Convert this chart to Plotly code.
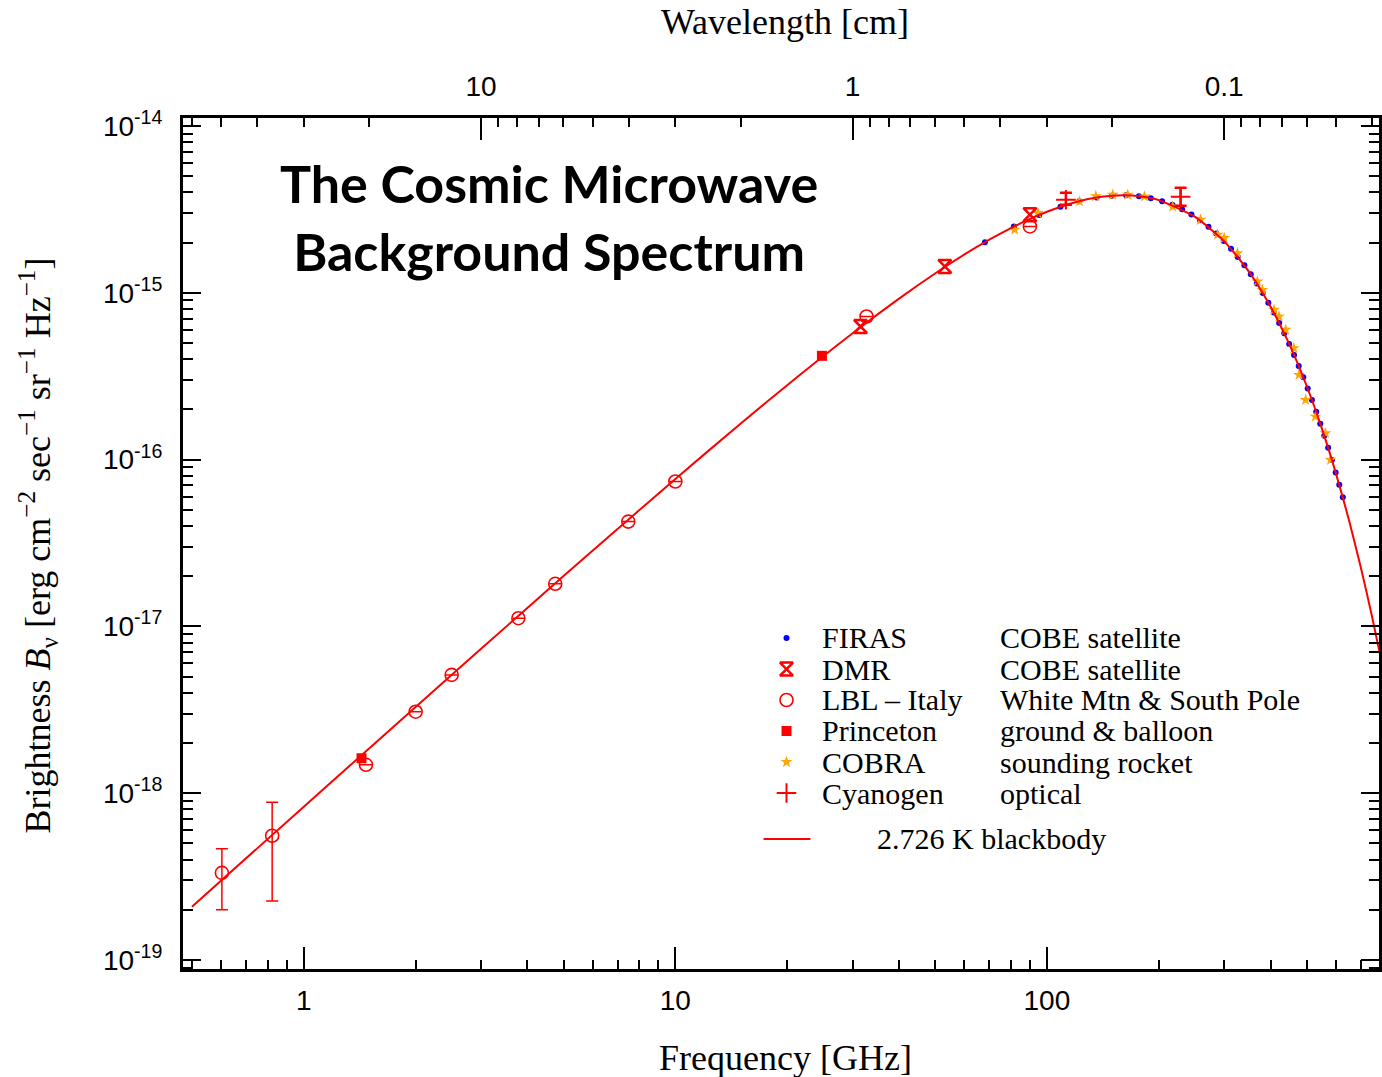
import plotly.graph_objects as go

# ---- 2.726 K blackbody curve, tabulated (GHz, erg cm^-2 s^-1 sr^-1 Hz^-1) ----
bb_freq = [0.5, 1, 2, 3, 5, 10, 15, 20, 30, 40, 50, 60, 70, 80, 90, 100,
           120, 140, 160, 180, 200, 250, 300, 350, 400, 450, 500, 550,
           600, 650, 700, 750, 800]
bb_bright = [2.085e-19, 8.301e-19, 3.291e-18, 7.340e-18, 2.003e-17, 7.659e-17,
             1.6465e-16, 2.7948e-16, 5.721e-16, 9.231e-16, 1.3057e-15,
             1.6979e-15, 2.0818e-15, 2.4435e-15, 2.7726e-15, 3.0619e-15,
             3.5046e-15, 3.7600e-15, 3.8409e-15, 3.7744e-15, 3.5941e-15,
             2.8599e-15, 2.0345e-15, 1.3357e-15, 8.258e-16, 4.873e-16,
             2.7715e-16, 1.5295e-16, 8.234e-17, 4.341e-17, 2.2484e-17,
             1.1468e-17, 5.771e-18]

# ---- FIRAS (COBE satellite) ----
firas_freq = [68.1, 81.5, 95.3, 108.8, 122.3, 136.1, 149.6, 163.4, 176.9, 190.4,
              204.2, 217.6, 231.1, 244.9, 258.4, 272.2, 285.7, 299.2, 313.0,
              326.5, 340.0, 353.8, 367.2, 381.0, 394.5, 408.0, 421.8, 435.3,
              448.8, 462.6, 476.1, 489.9, 503.3, 516.8, 530.6, 544.1, 557.9,
              571.4, 584.9, 598.7, 612.2, 625.7]
firas_bright = [2.010e-15, 2.495e-15, 2.931e-15, 3.280e-15, 3.544e-15, 3.725e-15,
                3.819e-15, 3.839e-15, 3.793e-15, 3.693e-15, 3.545e-15, 3.368e-15,
                3.166e-15, 2.945e-15, 2.719e-15, 2.487e-15, 2.264e-15, 2.047e-15,
                1.836e-15, 1.642e-15, 1.461e-15, 1.290e-15, 1.139e-15, 9.974e-16,
                8.728e-16, 7.611e-16, 6.595e-16, 5.715e-16, 4.938e-16, 4.241e-16,
                3.645e-16, 3.114e-16, 2.667e-16, 2.277e-16, 1.933e-16, 1.643e-16,
                1.389e-16, 1.177e-16, 9.95e-17, 8.37e-17, 7.06e-17, 5.94e-17]

# ---- COBRA (sounding rocket) ----
cobra_freq = [81.9, 94.6, 122.4, 135.4, 150.4, 165.0, 183.0, 218.0, 259.0, 288.0,
              300.0, 325.7, 368.5, 380.0, 408.6, 421.4, 439.0, 462.0, 477.0,
              497.0, 528.0, 562.0, 580.0]
cobra_bright = [2.39e-15, 3.01e-15, 3.53e-15, 3.80e-15, 3.87e-15, 3.87e-15,
                3.78e-15, 3.29e-15, 2.74e-15, 2.23e-15, 2.13e-15, 1.73e-15,
                1.17e-15, 1.04e-15, 7.91e-16, 7.21e-16, 6.00e-16, 4.66e-16,
                3.22e-16, 2.28e-16, 1.81e-16, 1.44e-16, 9.97e-17]

# ---- DMR (COBE satellite) ----
dmr_freq = [31.5, 53.1, 90.0]
dmr_bright = [6.28e-16, 1.44e-15, 2.94e-15]

# ---- LBL - Italy (White Mtn & South Pole) ----
lbl_freq = [0.602, 0.822, 1.47, 2.0, 2.5, 3.78, 4.75, 7.47, 10.0, 32.7, 90.0]
lbl_bright = [3.33e-19, 5.56e-19, 1.48e-18, 3.08e-18, 5.12e-18, 1.12e-17,
              1.80e-17, 4.25e-17, 7.39e-17, 7.21e-16, 2.50e-15]
lbl_upper = [4.64e-19, 8.83e-19, 1.48e-18, 3.08e-18, 5.12e-18, 1.12e-17,
             1.80e-17, 4.25e-17, 7.39e-17, 7.21e-16, 2.50e-15]
lbl_lower = [2.00e-19, 2.26e-19, 1.48e-18, 3.08e-18, 5.12e-18, 1.12e-17,
             1.80e-17, 4.25e-17, 7.39e-17, 7.21e-16, 2.50e-15]

# ---- Princeton (ground & balloon) ----
princeton_freq = [1.43, 24.8]
princeton_bright = [1.62e-18, 4.19e-16]

# ---- Cyanogen (optical) ----
cn_freq = [112.5, 229.0]
cn_bright = [3.61e-15, 3.76e-15]
cn_upper = [3.98e-15, 4.27e-15]
cn_lower = [3.37e-15, 3.33e-15]

# ---- axis ticks ----
freq_ticks = [1, 10, 100]
freq_ticktext = ["1", "10", "100"]
wave_ticks = [10, 1, 0.1]
wave_ticktext = ["10", "1", "0.1"]
bright_ticks = [1e-19, 1e-18, 1e-17, 1e-16, 1e-15, 1e-14]
bright_ticktext = ["10<sup>-19</sup>", "10<sup>-18</sup>", "10<sup>-17</sup>",
                   "10<sup>-16</sup>", "10<sup>-15</sup>", "10<sup>-14</sup>"]

# ---- legend rows ----
legend_names = ["FIRAS", "DMR", "LBL \u2013 Italy", "Princeton", "COBRA", "Cyanogen"]
legend_desc = ["COBE satellite", "COBE satellite", "White Mtn & South Pole",
               "ground & balloon", "sounding rocket", "optical"]

RED = "#FF0000"
BLUE = "#0000FF"
ORANGE = "#FFA500"

C_CM_GHZ = 29.9792458  # speed of light in cm * GHz

styles = {
    "FIRAS": dict(symbol="circle", size=6, color=BLUE, line=dict(width=0)),
    "DMR": dict(symbol="hourglass-open", size=13, color=RED, line=dict(width=2.5, color=RED)),
    "LBL": dict(symbol="circle-open", size=13, color=RED, line=dict(width=1.6, color=RED)),
    "Princeton": dict(symbol="square", size=10, color=RED, line=dict(width=0)),
    "COBRA": dict(symbol="star", size=9, color=ORANGE, line=dict(width=0)),
    "Cyanogen": dict(symbol="cross-thin-open", size=14, color=RED, line=dict(width=2, color=RED)),
}

fig = go.Figure()

fig.add_trace(go.Scatter(x=firas_freq, y=firas_bright, mode="markers",
                         marker=styles["FIRAS"], hoverinfo="skip"))
fig.add_trace(go.Scatter(x=cobra_freq, y=cobra_bright, mode="markers",
                         marker=styles["COBRA"], hoverinfo="skip"))
fig.add_trace(go.Scatter(x=bb_freq, y=bb_bright, mode="lines",
                         line=dict(color=RED, width=2, shape="spline", smoothing=0.6),
                         hoverinfo="skip"))
# same curve against wavelength, transparent, so the top wavelength axis is laid out
fig.add_trace(go.Scatter(x=[C_CM_GHZ / f for f in bb_freq], y=bb_bright,
                         xaxis="x2", mode="lines", opacity=0,
                         line=dict(color=RED, width=0), hoverinfo="skip"))
fig.add_trace(go.Scatter(
    x=lbl_freq, y=lbl_bright, mode="markers", marker=styles["LBL"],
    error_y=dict(type="data", symmetric=False,
                 array=[u - v for u, v in zip(lbl_upper, lbl_bright)],
                 arrayminus=[v - l for v, l in zip(lbl_bright, lbl_lower)],
                 color=RED, thickness=1.5, width=6),
    hoverinfo="skip"))
fig.add_trace(go.Scatter(x=princeton_freq, y=princeton_bright, mode="markers",
                         marker=styles["Princeton"], hoverinfo="skip"))
fig.add_trace(go.Scatter(x=dmr_freq, y=dmr_bright, mode="markers",
                         marker=styles["DMR"], hoverinfo="skip"))
fig.add_trace(go.Scatter(
    x=cn_freq, y=cn_bright, mode="markers", marker=styles["Cyanogen"],
    error_y=dict(type="data", symmetric=False,
                 array=[u - v for u, v in zip(cn_upper, cn_bright)],
                 arrayminus=[v - l for v, l in zip(cn_bright, cn_lower)],
                 color=RED, thickness=2.5, width=6),
    hoverinfo="skip"))

# legend key symbols on an overlay axis spanning the plot area
key_x = 0.5046
key_rows = [0.3890, 0.3525, 0.3161, 0.2797, 0.2432, 0.2068]
for key, yrow in zip(["FIRAS", "DMR", "LBL", "Princeton", "COBRA", "Cyanogen"], key_rows):
    fig.add_trace(go.Scatter(x=[key_x], y=[yrow], xaxis="x3", yaxis="y3",
                             mode="markers", marker=styles[key], hoverinfo="skip"))

tick_font = dict(family="Liberation Sans, Arial, sans-serif", size=28, color="black")
serif = "Liberation Serif, Times New Roman, serif"

minor_freq = [m * 10 ** e for e in range(-1, 3) for m in range(2, 10)]
minor_wave = [m * 10 ** e for e in range(-2, 2) for m in range(2, 10)]
minor_bright = [m * 10.0 ** e for e in range(-20, -14) for m in range(2, 10)]

fig.update_layout(
    width=1382, height=1077,
    margin=dict(l=183, r=0, t=118, b=108),
    paper_bgcolor="white", plot_bgcolor="white",
    showlegend=False,
    xaxis=dict(
        type="log", range=[-0.3251, 2.8938],
        showline=True, linecolor="black", linewidth=3, mirror=False,
        showgrid=False, zeroline=False,
        ticks="inside", ticklen=22, tickwidth=1.5, tickcolor="black",
        tickvals=freq_ticks, ticktext=freq_ticktext, tickfont=tick_font,
        ticklabelstandoff=4,
        minor=dict(ticks="inside", ticklen=9, tickwidth=2, tickcolor="black",
                   tickvals=minor_freq, showgrid=False),
    ),
    xaxis2=dict(
        type="log", range=[1.8022, -1.4167], overlaying="x", side="top", anchor="y",
        showline=True, linecolor="black", linewidth=3,
        showgrid=False, zeroline=False,
        ticks="inside", ticklen=22, tickwidth=1.5, tickcolor="black",
        tickvals=wave_ticks, ticktext=wave_ticktext, tickfont=tick_font,
        ticklabelstandoff=8,
        minor=dict(ticks="inside", ticklen=9, tickwidth=2, tickcolor="black",
                   tickvals=minor_wave, showgrid=False),
    ),
    yaxis=dict(
        type="log", range=[-19.054, -13.952],
        showline=True, linecolor="black", linewidth=3, mirror="ticks",
        showgrid=False, zeroline=False,
        ticks="inside", ticklen=18, tickwidth=1.5, tickcolor="black",
        tickvals=bright_ticks, ticktext=bright_ticktext, tickfont=tick_font,
        ticklabelstandoff=12,
        minor=dict(ticks="inside", ticklen=10, tickwidth=2, tickcolor="black",
                   tickvals=minor_bright, showgrid=False),
    ),
    xaxis3=dict(domain=[0, 1], range=[0, 1], overlaying="x", anchor="y3", visible=False),
    yaxis3=dict(domain=[0, 1], range=[0, 1], overlaying="y", anchor="x3", visible=False),
)

annotations = [
    dict(text="The Cosmic Microwave<br>Background Spectrum", x=0.306, y=0.884,
         xref="paper", yref="paper", xanchor="center", yanchor="middle",
         showarrow=False, align="center",
         font=dict(family="Lato, Carlito, sans-serif", size=52, color="black", weight="bold")),
    dict(text="Wavelength [cm]", x=0.5037, y=1.1128, xref="paper", yref="paper",
         xanchor="center", yanchor="middle", showarrow=False,
         font=dict(family=serif, size=36, color="black")),
    dict(text="Frequency [GHz]", x=0.5037, y=-0.1046, xref="paper", yref="paper",
         xanchor="center", yanchor="middle", showarrow=False,
         font=dict(family=serif, size=36, color="black")),
    dict(text="Brightness <i>B</i><sub>\u03bd</sub> [erg cm<sup>\u22122</sup> sec<sup>\u22121</sup> "
              "sr<sup>\u22121</sup> Hz<sup>\u22121</sup>]",
         x=-0.1209, y=0.4982, xref="paper", yref="paper", textangle=-90,
         xanchor="center", yanchor="middle", showarrow=False,
         font=dict(family=serif, size=36, color="black")),
]

for name, desc, yrow in zip(legend_names, legend_desc, key_rows):
    annotations.append(dict(text=name, x=0.533, y=yrow, xref="paper", yref="paper",
                            xanchor="left", yanchor="middle", showarrow=False,
                            font=dict(family=serif, size=30, color="black")))
    annotations.append(dict(text=desc, x=0.6814, y=yrow, xref="paper", yref="paper",
                            xanchor="left", yanchor="middle", showarrow=False,
                            font=dict(family=serif, size=30, color="black")))
annotations.append(dict(text="2.726 K blackbody", x=0.5788, y=0.1528, xref="paper", yref="paper",
                        xanchor="left", yanchor="middle", showarrow=False,
                        font=dict(family=serif, size=30, color="black")))
fig.update_layout(annotations=annotations)

fig.add_shape(type="line", xref="paper", yref="paper", x0=0.4854, x1=0.5246,
              y0=0.1528, y1=0.1528, line=dict(color=RED, width=2))

fig.write_html("out.html")
